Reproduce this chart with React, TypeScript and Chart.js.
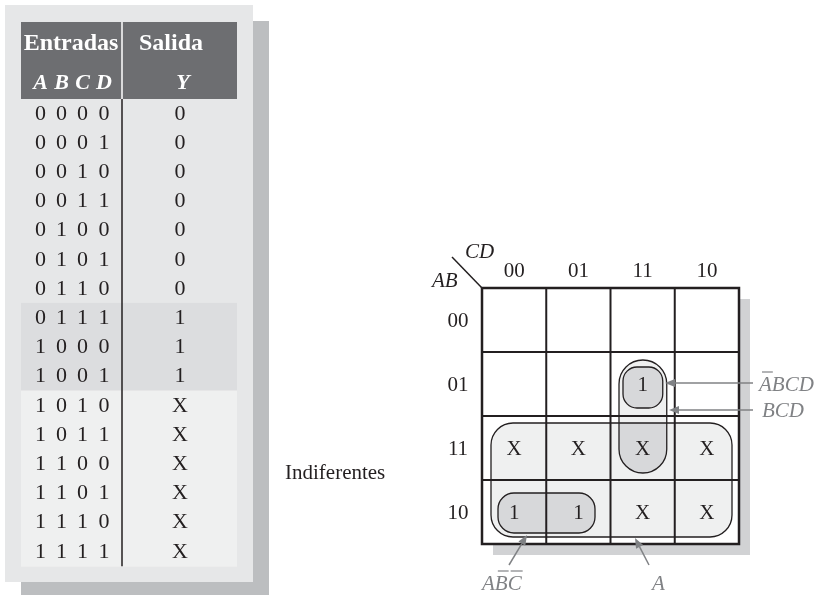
import { useEffect, useRef } from "react";
import { Chart, registerables } from "chart.js";

Chart.register(...registerables);

// ---------- DATA ----------
const VARS = ["A", "B", "C", "D"];
const HEADER_IN = "Entradas";
const HEADER_OUT = "Salida";
const OUT_VAR = "Y";
const INPUTS = [
  "0000", "0001", "0010", "0011", "0100", "0101", "0110", "0111",
  "1000", "1001", "1010", "1011", "1100", "1101", "1110", "1111",
];
const OUTPUTS = ["0", "0", "0", "0", "0", "0", "0", "1", "1", "1", "X", "X", "X", "X", "X", "X"];
const DONT_CARE_LABEL = "Indiferentes";

const KMAP_ROW_VAR = "AB";
const KMAP_COL_VAR = "CD";
const KMAP_ROWS = ["00", "01", "11", "10"];
const KMAP_COLS = ["00", "01", "11", "10"];

// groups: name, overlined letter indices, cell rows / cols covered
const GROUP_NAMES = ["A", "BCD", "ABCD", "ABC"];
const GROUP_BARS = [[], [], [0], [1, 2]];
const GROUP_ROWS = [[2, 3], [1, 2], [1, 1], [3, 3]];
const GROUP_COLS = [[0, 3], [2, 2], [2, 2], [0, 1]];

// ---------- LAYOUT / STYLE ----------
const W = 817;
const H = 595;
const INK = "#231f20";
const GREY_TXT = "#808285";
const SERIF = '"Liberation Serif", "Times New Roman", serif';

const TBL = {
  boxX: 5, boxY: 5, boxW: 248, boxH: 577,
  shadowDX: 16, shadowDY: 16,
  headX: 21, headY: 22, headW: 216, headH: 77,
  divX: 122,
  rowH: 29.2,
  bitX: [40.5, 61.5, 82.5, 104],
  outX: 180,
  outVarX: 183,
  inTitleX: 71, outTitleX: 171, titleBase: 50, varBase: 89,
};

const KM = { x0: 482, y0: 288, cw: 64.25, ch: 64, shadow: 11 };
// insets per group: left, right, top, bottom, radius
const G_STYLE = [
  { l: 9, r: 7, t: 7, b: 7, rad: 22, fill: "#eff0f0" },
  { l: 8.5, r: 8, t: 8, b: 7, rad: 24, fill: "#eff0f0" },
  { l: 12.5, r: 12, t: 15, b: 8, rad: 14, fill: "#d7d8da" },
  { l: 16, r: 15.5, t: 13, b: 11, rad: 16, fill: "#d7d8da" },
];
// label positions (x, baseline) and arrow tail/tip for each group
const G_LABEL = [
  { x: 652, y: 590, tail: [649, 565], tip: [635, 538] },
  { x: 762, y: 417, tail: [753, 410], tip: [669, 410] },
  { x: 759, y: 391, tail: [753, 383], tip: [665, 383] },
  { x: 482, y: 590, tail: [509, 565], tip: [527, 535] },
];

function rr(ctx: CanvasRenderingContext2D, x: number, y: number, w: number, h: number, r: number) {
  const rad = Math.min(r, w / 2, h / 2);
  ctx.beginPath();
  ctx.moveTo(x + rad, y);
  ctx.lineTo(x + w - rad, y);
  ctx.arcTo(x + w, y, x + w, y + rad, rad);
  ctx.lineTo(x + w, y + h - rad);
  ctx.arcTo(x + w, y + h, x + w - rad, y + h, rad);
  ctx.lineTo(x + rad, y + h);
  ctx.arcTo(x, y + h, x, y + h - rad, rad);
  ctx.lineTo(x, y + rad);
  ctx.arcTo(x, y, x + rad, y, rad);
  ctx.closePath();
}

const drawPlugin = {
  id: "kmapDraw",
  afterDraw(chart: any) {
    const ctx: CanvasRenderingContext2D = chart.ctx;
    const sx = (v: number) => chart.scales.x.getPixelForValue(v);
    const sy = (v: number) => chart.scales.y.getPixelForValue(v);
    const rect = (x: number, y: number, w: number, h: number) => {
      const X = sx(x), Y = sy(y);
      return [X, Y, sx(x + w) - X, sy(y + h) - Y];
    };
    ctx.save();

    // ----- Truth table -----
    let [a, b, c, d] = rect(TBL.boxX + TBL.shadowDX, TBL.boxY + TBL.shadowDY, TBL.boxW, TBL.boxH + 20);
    ctx.fillStyle = "#bcbec0";
    ctx.fillRect(a, b, c, d);
    [a, b, c, d] = rect(TBL.boxX, TBL.boxY, TBL.boxW, TBL.boxH);
    ctx.fillStyle = "#e6e7e8";
    ctx.fillRect(a, b, c, d);
    [a, b, c, d] = rect(TBL.headX, TBL.headY, TBL.headW, TBL.headH);
    ctx.fillStyle = "#6d6e71";
    ctx.fillRect(a, b, c, d);

    const bodyTop = TBL.headY + TBL.headH;
    OUTPUTS.forEach((o, i) => {
      if (o === "0") return;
      const [x1, y1, w1, h1] = rect(TBL.headX, bodyTop + i * TBL.rowH, TBL.headW, TBL.rowH);
      ctx.fillStyle = o === "1" ? "#dcdddf" : "#eff0f0";
      ctx.fillRect(x1, y1 - 0.5, w1, h1 + 1);
    });

    // dividers
    ctx.strokeStyle = "#ffffff";
    ctx.lineWidth = 1.5;
    ctx.beginPath();
    ctx.moveTo(sx(TBL.divX), sy(TBL.headY));
    ctx.lineTo(sx(TBL.divX), sy(bodyTop));
    ctx.stroke();
    ctx.strokeStyle = INK;
    ctx.beginPath();
    ctx.moveTo(sx(TBL.divX), sy(bodyTop));
    ctx.lineTo(sx(TBL.divX), sy(bodyTop + INPUTS.length * TBL.rowH));
    ctx.stroke();

    // header text
    ctx.fillStyle = "#ffffff";
    ctx.textAlign = "center";
    ctx.textBaseline = "alphabetic";
    ctx.font = `bold 24px ${SERIF}`;
    ctx.fillText(HEADER_IN, sx(TBL.inTitleX), sy(TBL.titleBase));
    ctx.fillText(HEADER_OUT, sx(TBL.outTitleX), sy(TBL.titleBase));
    ctx.font = `italic bold 22px ${SERIF}`;
    VARS.forEach((v, k) => ctx.fillText(v, sx(TBL.bitX[k]), sy(TBL.varBase)));
    ctx.fillText(OUT_VAR, sx(TBL.outVarX), sy(TBL.varBase));

    // rows
    ctx.fillStyle = INK;
    ctx.font = `22px ${SERIF}`;
    INPUTS.forEach((bits, i) => {
      const base = bodyTop + (i + 0.5) * TBL.rowH + 6;
      bits.split("").forEach((bit, k) => ctx.fillText(bit, sx(TBL.bitX[k]), sy(base)));
      ctx.fillText(OUTPUTS[i], sx(TBL.outX), sy(base));
    });

    // dont care label
    const xRows = OUTPUTS.map((o, i) => (o === "X" ? i : -1)).filter((i) => i >= 0);
    const midX = bodyTop + ((xRows[0] + xRows[xRows.length - 1] + 1) / 2) * TBL.rowH;
    ctx.textAlign = "left";
    ctx.font = `21px ${SERIF}`;
    ctx.fillText(DONT_CARE_LABEL, sx(285), sy(midX));

    // ----- K-map -----
    const cellX = (col: number) => KM.x0 + col * KM.cw;
    const cellY = (row: number) => KM.y0 + row * KM.ch;
    const nC = KMAP_COLS.length, nR = KMAP_ROWS.length;

    // shadow
    [a, b, c, d] = rect(KM.x0 + KM.shadow, KM.y0 + KM.shadow, nC * KM.cw, nR * KM.ch);
    ctx.fillStyle = "#d1d2d4";
    ctx.fillRect(a, b, c, d);
    [a, b, c, d] = rect(KM.x0, KM.y0, nC * KM.cw, nR * KM.ch);
    ctx.fillStyle = "#ffffff";
    ctx.fillRect(a, b, c, d);

    const groupPath = (g: number) => {
      const s = G_STYLE[g];
      const x1 = cellX(GROUP_COLS[g][0]) + s.l;
      const x2 = cellX(GROUP_COLS[g][1] + 1) - s.r;
      const y1 = cellY(GROUP_ROWS[g][0]) + s.t;
      const y2 = cellY(GROUP_ROWS[g][1] + 1) - s.b;
      const [X, Y, Wd, Ht] = rect(x1, y1, x2 - x1, y2 - y1);
      rr(ctx, X, Y, Wd, Ht, s.rad);
    };

    // fills
    groupPath(0);
    ctx.fillStyle = G_STYLE[0].fill;
    ctx.fill();
    groupPath(1);
    ctx.fillStyle = G_STYLE[1].fill;
    ctx.fill();
    // overlap of BCD with A darker
    ctx.save();
    groupPath(0);
    ctx.clip();
    groupPath(1);
    ctx.fillStyle = "#d7d8da";
    ctx.fill();
    ctx.restore();
    groupPath(2);
    ctx.fillStyle = G_STYLE[2].fill;
    ctx.fill();
    groupPath(3);
    ctx.fillStyle = G_STYLE[3].fill;
    ctx.fill();

    // grid
    ctx.strokeStyle = INK;
    ctx.lineWidth = 2;
    for (let k = 1; k < nC; k++) {
      ctx.beginPath();
      ctx.moveTo(sx(cellX(k)), sy(KM.y0));
      ctx.lineTo(sx(cellX(k)), sy(cellY(nR)));
      ctx.stroke();
    }
    for (let k = 1; k < nR; k++) {
      ctx.beginPath();
      ctx.moveTo(sx(KM.x0), sy(cellY(k)));
      ctx.lineTo(sx(cellX(nC)), sy(cellY(k)));
      ctx.stroke();
    }
    ctx.lineWidth = 2.5;
    ctx.strokeRect(sx(KM.x0), sy(KM.y0), sx(cellX(nC)) - sx(KM.x0), sy(cellY(nR)) - sy(KM.y0));

    // group outlines
    ctx.lineWidth = 1.3;
    for (let g = 0; g < GROUP_NAMES.length; g++) {
      groupPath(g);
      ctx.stroke();
    }

    // diagonal + var labels
    ctx.lineWidth = 1.5;
    ctx.beginPath();
    ctx.moveTo(sx(KM.x0 - 30), sy(KM.y0 - 31));
    ctx.lineTo(sx(KM.x0), sy(KM.y0));
    ctx.stroke();
    ctx.fillStyle = INK;
    ctx.font = `italic 21px ${SERIF}`;
    ctx.textAlign = "left";
    ctx.fillText(KMAP_COL_VAR, sx(465), sy(258));
    ctx.fillText(KMAP_ROW_VAR, sx(432), sy(287));

    ctx.font = `21px ${SERIF}`;
    ctx.textAlign = "center";
    KMAP_COLS.forEach((lab, k) => ctx.fillText(lab, sx(cellX(k) + KM.cw / 2), sy(KM.y0 - 11)));
    KMAP_ROWS.forEach((lab, k) => ctx.fillText(lab, sx(458), sy(cellY(k) + KM.ch / 2 + 7)));

    // cell values from truth table
    KMAP_ROWS.forEach((ab, r) => {
      KMAP_COLS.forEach((cd, col) => {
        const idx = INPUTS.indexOf(ab + cd);
        const v = OUTPUTS[idx];
        if (v === "0") return;
        ctx.fillText(v, sx(cellX(col) + KM.cw / 2), sy(cellY(r) + KM.ch / 2 + 7));
      });
    });

    // term labels + arrows
    ctx.strokeStyle = GREY_TXT;
    ctx.fillStyle = GREY_TXT;
    ctx.font = `italic 21px ${SERIF}`;
    ctx.textAlign = "left";
    GROUP_NAMES.forEach((name, g) => {
      const L = G_LABEL[g];
      const [tx, ty] = L.tail;
      const [hx, hy] = L.tip;
      const ang = Math.atan2(sy(hy) - sy(ty), sx(hx) - sx(tx));
      const headLen = 10, headW = 4;
      const bx = sx(hx) - Math.cos(ang) * headLen;
      const by = sy(hy) - Math.sin(ang) * headLen;
      ctx.lineWidth = 1.5;
      ctx.beginPath();
      ctx.moveTo(sx(tx), sy(ty));
      ctx.lineTo(bx, by);
      ctx.stroke();
      ctx.beginPath();
      ctx.moveTo(sx(hx), sy(hy));
      ctx.lineTo(bx - Math.sin(ang) * headW, by + Math.cos(ang) * headW);
      ctx.lineTo(bx + Math.sin(ang) * headW, by - Math.cos(ang) * headW);
      ctx.closePath();
      ctx.fill();

      ctx.fillText(name, sx(L.x), sy(L.y));
      // overlines
      ctx.lineWidth = 1.2;
      GROUP_BARS[g].forEach((k) => {
        const pre = ctx.measureText(name.slice(0, k)).width;
        const wch = ctx.measureText(name[k]).width;
        const yb = sy(L.y) - 19;
        ctx.beginPath();
        ctx.moveTo(sx(L.x) + pre + 3, yb);
        ctx.lineTo(sx(L.x) + pre + wch + 1, yb);
        ctx.stroke();
      });
    });

    ctx.restore();
  },
};

export default function App() {
  const ref = useRef<HTMLCanvasElement | null>(null);
  useEffect(() => {
    document.body.style.margin = "0";
    const canvas = ref.current;
    if (!canvas) return;
    const chart = new Chart(canvas, {
      type: "scatter",
      data: { datasets: [{ data: [], pointRadius: 0 }] },
      options: {
        animation: false,
        responsive: false,
        devicePixelRatio: 1,
        layout: { padding: 0 },
        plugins: { legend: { display: false }, tooltip: { enabled: false } },
        scales: {
          x: { type: "linear", min: 0, max: W, display: false },
          y: { type: "linear", min: 0, max: H, reverse: true, display: false },
        },
      },
      plugins: [drawPlugin],
    });
    return () => chart.destroy();
  }, []);
  return (
    <div style={{ position: "absolute", left: 0, top: 0, width: W, height: H, background: "#fff" }}>
      <canvas ref={ref} width={W} height={H} style={{ display: "block", width: W, height: H }} />
    </div>
  );
}
